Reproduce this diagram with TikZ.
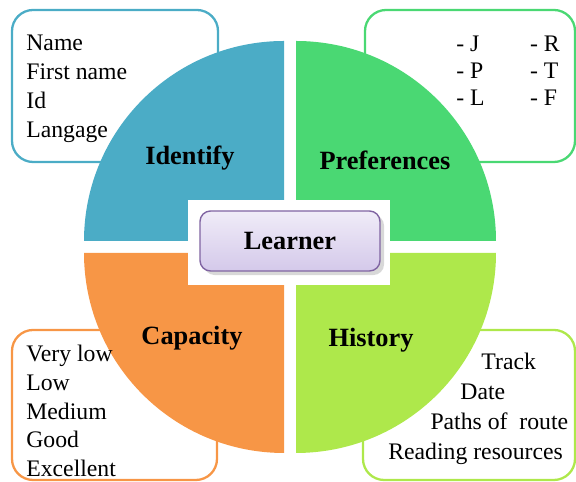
\documentclass[tikz,border=0pt]{standalone}
\usepackage{fontspec}
\setmainfont{Liberation Serif}
\newfontfamily\listfont{Liberation Serif}
\usetikzlibrary{shadows}

\definecolor{idblue}{HTML}{4BACC6}
\definecolor{prefgreen}{HTML}{4AD873}
\definecolor{caporange}{HTML}{F79646}
\definecolor{histgreen}{HTML}{AEE84B}
\definecolor{lrnborder}{HTML}{8064A2}
\definecolor{lrntop}{HTML}{F0ECF8}
\definecolor{lrnbottom}{HTML}{D4C9EA}

\tikzset{
  listbox/.style={draw, line width=1.3pt, rounded corners=12},
  title/.style={font=\fontsize{15}{18}\selectfont\bfseries, inner sep=0pt},
  items/.style={font=\listfont\fontsize{13.5}{16.4}\selectfont, align=left, inner sep=0pt}
}

\begin{document}
\begin{tikzpicture}[x=0.02cm, y=0.02cm]
		\useasboundingbox (0,0) rectangle (576,482);
		
		% boxes behind the wheel
		\draw[listbox, idblue] (12,320) rectangle (218,472);
		\draw[listbox, prefgreen] (365,320) rectangle (575,472);
		\draw[listbox, caporange] (12,2) rectangle (217,152);
		\draw[listbox, histgreen] (363,2) rectangle (575,152);
		
		% the four quarters
		\fill[idblue] (284,241) -- ++(-200,0) arc[start angle=180, end angle=90, radius=200] -- cycle;
		\fill[prefgreen] (296,241) -- ++(0,200) arc[start angle=90, end angle=0, radius=200] -- cycle;
		\fill[caporange] (284,229) -- ++(-200,0) arc[start angle=180, end angle=270, radius=200] -- cycle;
		\fill[histgreen] (296,229) -- ++(200,0) arc[start angle=0, end angle=-90, radius=200] -- cycle;
		
		% hole in the middle
		\fill[white] (188,197) rectangle (390,282);
		
		\node[draw=lrnborder, line width=0.8pt, rounded corners=6, top color=lrntop, bottom color=lrnbottom,
		      drop shadow={opacity=0.3}, minimum width=180*0.02cm, minimum height=60*0.02cm, title]
		      (learner) at (290,241) {Learner};
		
		\node[title] (identify) at (190,324) {Identify};
		\node[title] (preferences) at (385,322) {Preferences};
		\node[title] (capacity) at (192,144) {Capacity};
		\node[title] (history) at (371,142) {History};
		
		\node[items, anchor=west] (idlist) at (26,393) {Name\\First name\\Id\\Langage};
		\node[items, anchor=west, font=\listfont\fontsize{13.5}{15.6}\selectfont] (preflist) at (456,409)
		      {\begin{tabular}{@{}p{42pt}@{}l@{}}- J & - R\\- P & - T\\- L & - F\end{tabular}};
		\node[items, anchor=west] (caplist) at (26,71) {Very low\\Low\\Medium\\Good\\Excellent};
		\node[items, anchor=west, font=\listfont\fontsize{13.5}{17}\selectfont] (histlist) at (388,73)
		      {\hspace*{53pt}Track\\\hspace*{41pt}Date\\\hspace*{24pt}Paths of\ \ route\\Reading resources};
\end{tikzpicture}
\end{document}
